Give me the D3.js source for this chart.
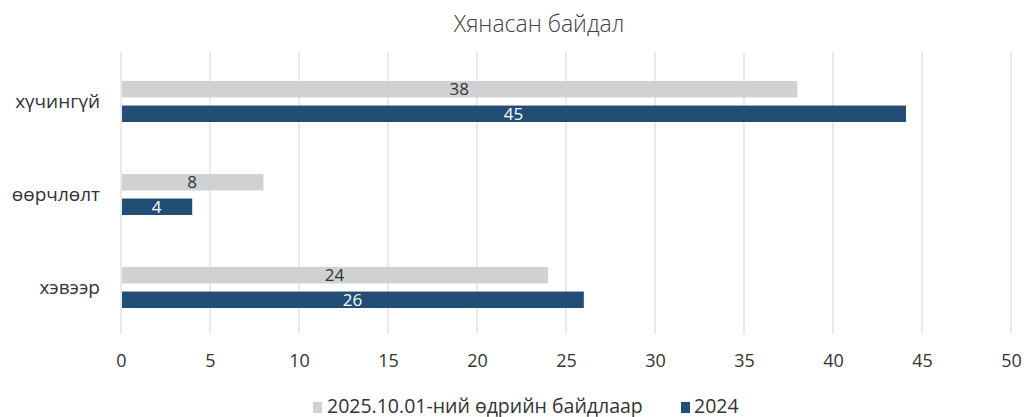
<!DOCTYPE html>
<html lang="mn">
<head>
    <meta charset="utf-8" />
    <title>Хянасан байдал</title>
    <script src="https://d3js.org/d3.v7.min.js"></script>
    <style>
        body { margin: 0; background: #fff; }
        text { font-family: "Open Sans", "Noto Sans", sans-serif; }
    </style>
</head>
<body>
<script>
    var w = 1026;
    var h = 417;

    // categories top to bottom
    var categories = ["хүчингүй", "өөрчлөлт", "хэвээр"];
    var seriesNames = ["2025.10.01-ний өдрийн байдлаар", "2024"];
    // bar lengths
    var values2025 = [38, 8, 24];
    var values2024 = [44.1, 4, 26];
    // labels printed on the bars
    var labels2025 = ["38", "8", "24"];
    var labels2024 = ["45", "4", "26"];
    var xTicks = [0, 5, 10, 15, 20, 25, 30, 35, 40, 45, 50];
    var colors = ["#d0d1d3", "#224d74"];

    var margin = {top: 55, right: 15, bottom: 83, left: 121};

    var xScale = d3.scaleLinear()
        .domain([0, 50])
        .range([margin.left, 1011]);

    var yScale = d3.scaleBand()
        .domain(categories)
        .range([margin.top, h - margin.bottom]);

    // inner band for the two series
    var sub = d3.scaleBand()
        .domain([0, 1])
        .range([-20.5, 20.5])
        .paddingInner(0.33);

    var svg = d3.select("body")
        .append("svg")
        .attr("width", w)
        .attr("height", h);

    // title
    svg.append("text")
        .attr("x", 539)
        .attr("y", 32)
        .attr("text-anchor", "middle")
        .attr("font-size", "23px")
        .attr("font-weight", 300)
        .attr("fill", "#404040")
        .text("Хянасан байдал");

    // gridlines
    svg.selectAll("line.grid")
        .data(xTicks)
        .enter()
        .append("line")
        .attr("class", "grid")
        .attr("x1", function(d) { return xScale(d); })
        .attr("x2", function(d) { return xScale(d); })
        .attr("y1", 52)
        .attr("y2", 334)
        .attr("stroke", "#e3e3e3")
        .attr("stroke-width", 1.5);

    // x axis labels
    var xAxis = d3.axisBottom(xScale)
        .tickValues(xTicks)
        .tickSize(0)
        .tickPadding(0);
    var gx = svg.append("g")
        .attr("transform", "translate(0,354)")
        .call(xAxis);
    gx.select(".domain").remove();
    gx.selectAll("text")
        .attr("dy", "0.71em")
        .attr("font-size", "18px")
        .attr("fill", "#333")
        .style("font-family", "'Open Sans', sans-serif");

    // y axis labels
    var yAxis = d3.axisLeft(yScale).tickSize(0).tickPadding(0);
    var gy = svg.append("g")
        .attr("transform", "translate(100,0)")
        .call(yAxis);
    gy.select(".domain").remove();
    gy.selectAll("text")
        .attr("font-size", "19px")
        .attr("fill", "#333")
        .style("font-family", "'Open Sans', sans-serif");

    var series = [
        {vals: values2025, labels: labels2025, color: colors[0], text: "#333"},
        {vals: values2024, labels: labels2024, color: colors[1], text: "#fff"}
    ];

    series.forEach(function(s, si) {
        var rows = categories.map(function(c, i) {
            return {cat: c, v: s.vals[i], label: s.labels[i]};
        });
        var g = svg.append("g");
        g.selectAll("rect")
            .data(rows)
            .enter()
            .append("rect")
            .attr("x", xScale(0) + 1)
            .attr("y", function(d) {
                return yScale(d.cat) + yScale.bandwidth() / 2 + sub(si);
            })
            .attr("width", function(d) { return xScale(d.v) - xScale(0) - 1; })
            .attr("height", sub.bandwidth())
            .attr("fill", s.color);

        g.selectAll("text")
            .data(rows)
            .enter()
            .append("text")
            .text(function(d) { return d.label; })
            .attr("x", function(d) { return (xScale(0) + xScale(d.v)) / 2; })
            .attr("y", function(d) {
                return yScale(d.cat) + yScale.bandwidth() / 2 + sub(si) + sub.bandwidth() / 2;
            })
            .attr("dy", "0.36em")
            .attr("text-anchor", "middle")
            .attr("font-size", "17px")
            .attr("fill", s.text);
    });

    // legend (sits on the bottom edge like the original)
    var legendX = [313, 681];
    var leg = svg.selectAll("g.legend")
        .data(seriesNames)
        .enter()
        .append("g")
        .attr("class", "legend")
        .attr("transform", function(d, i) { return "translate(" + legendX[i] + ",401)"; });
    leg.append("rect")
        .attr("y", 1)
        .attr("width", 9)
        .attr("height", 11)
        .attr("fill", function(d, i) { return colors[i]; });
    leg.append("text")
        .attr("x", function(d, i) { return i === 0 ? 14 : 13; })
        .attr("y", 5)
        .attr("dy", "0.36em")
        .attr("font-size", "19.5px")
        .attr("fill", "#333")
        .text(function(d) { return d; });
</script>
</body>
</html>
